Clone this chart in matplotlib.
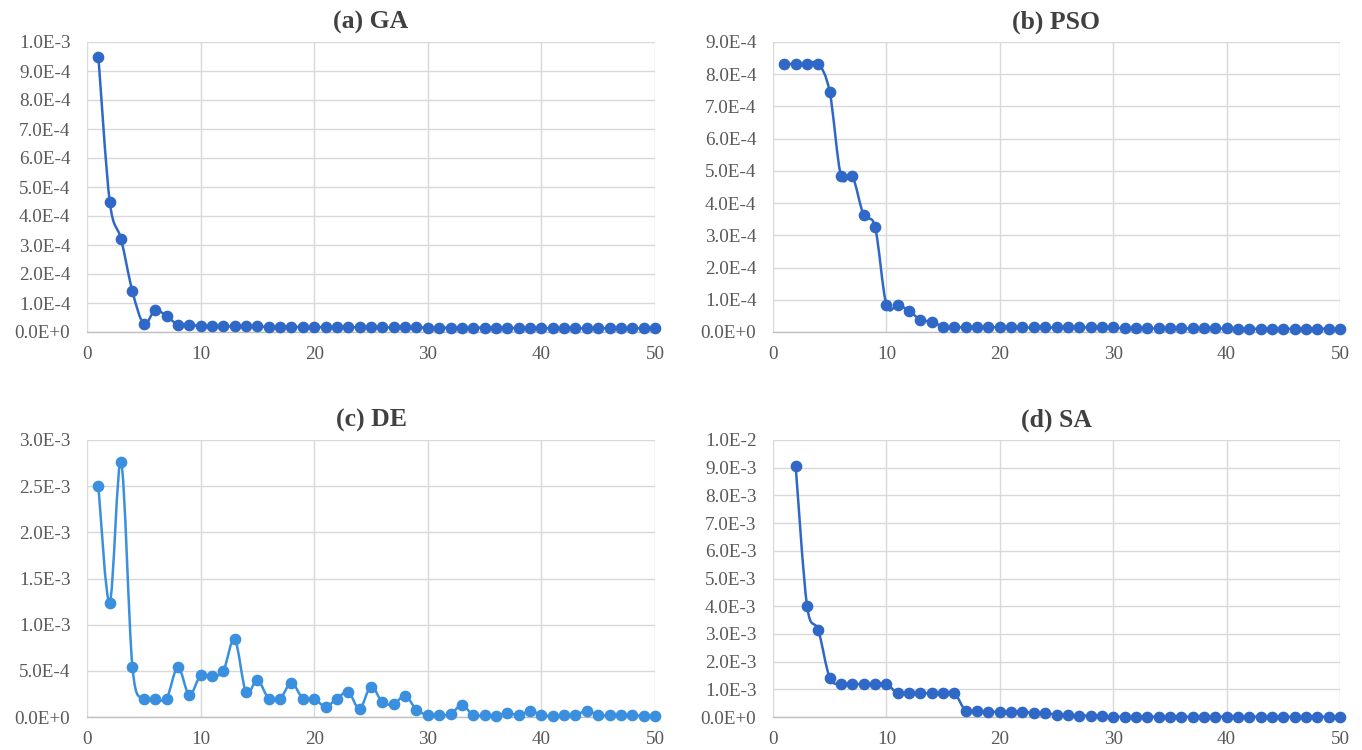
import numpy as np
import matplotlib
matplotlib.use("Agg")
import matplotlib.pyplot as plt
from matplotlib.path import Path
from matplotlib.patches import PathPatch
from matplotlib.ticker import FuncFormatter, MultipleLocator

# ---------------- data ----------------
iters = list(range(1, 51))

ga = [9.5e-4, 4.5e-4, 3.2e-4, 1.4e-4, 0.28e-4, 0.75e-4, 0.55e-4, 0.25e-4, 0.23e-4, 0.22e-4,
      0.20e-4, 0.20e-4, 0.19e-4, 0.19e-4, 0.19e-4, 0.18e-4, 0.18e-4, 0.18e-4, 0.17e-4, 0.17e-4,
      0.17e-4, 0.17e-4, 0.17e-4, 0.16e-4, 0.16e-4, 0.16e-4, 0.16e-4, 0.16e-4, 0.16e-4, 0.15e-4,
      0.15e-4, 0.15e-4, 0.15e-4, 0.15e-4, 0.15e-4, 0.15e-4, 0.14e-4, 0.14e-4, 0.14e-4, 0.13e-4,
      0.13e-4, 0.13e-4, 0.13e-4, 0.13e-4, 0.13e-4, 0.13e-4, 0.13e-4, 0.13e-4, 0.13e-4, 0.13e-4]

pso = [8.32e-4, 8.32e-4, 8.32e-4, 8.32e-4, 7.45e-4, 4.83e-4, 4.83e-4, 3.62e-4, 3.26e-4, 0.84e-4,
       0.84e-4, 0.66e-4, 0.38e-4, 0.32e-4, 0.17e-4, 0.15e-4, 0.15e-4, 0.15e-4, 0.15e-4, 0.15e-4,
       0.15e-4, 0.14e-4, 0.14e-4, 0.14e-4, 0.14e-4, 0.14e-4, 0.14e-4, 0.14e-4, 0.14e-4, 0.14e-4,
       0.11e-4, 0.11e-4, 0.11e-4, 0.11e-4, 0.11e-4, 0.11e-4, 0.11e-4, 0.11e-4, 0.11e-4, 0.11e-4,
       0.10e-4, 0.10e-4, 0.10e-4, 0.10e-4, 0.10e-4, 0.10e-4, 0.10e-4, 0.10e-4, 0.10e-4, 0.10e-4]

de = [2.50e-3, 1.24e-3, 2.76e-3, 0.54e-3, 0.20e-3, 0.20e-3, 0.20e-3, 0.54e-3, 0.24e-3, 0.45e-3,
      0.44e-3, 0.50e-3, 0.84e-3, 0.27e-3, 0.40e-3, 0.20e-3, 0.20e-3, 0.37e-3, 0.20e-3, 0.20e-3,
      0.11e-3, 0.20e-3, 0.27e-3, 0.09e-3, 0.33e-3, 0.16e-3, 0.14e-3, 0.23e-3, 0.08e-3, 0.02e-3,
      0.02e-3, 0.03e-3, 0.13e-3, 0.02e-3, 0.02e-3, 0.014e-3, 0.045e-3, 0.02e-3, 0.065e-3, 0.024e-3,
      0.01e-3, 0.02e-3, 0.02e-3, 0.07e-3, 0.02e-3, 0.02e-3, 0.02e-3, 0.02e-3, 0.014e-3, 0.014e-3]

sa_iters = list(range(2, 51))
sa = [9.05e-3, 4.02e-3, 3.13e-3, 1.42e-3, 1.19e-3, 1.19e-3, 1.19e-3, 1.19e-3, 1.19e-3,
      0.86e-3, 0.86e-3, 0.86e-3, 0.86e-3, 0.86e-3, 0.86e-3, 0.22e-3, 0.22e-3, 0.19e-3, 0.19e-3,
      0.19e-3, 0.19e-3, 0.14e-3, 0.14e-3, 0.08e-3, 0.08e-3, 0.05e-3, 0.05e-3, 0.02e-3, 0.01e-3,
      0.01e-3, 0.01e-3, 0.01e-3, 0.01e-3, 0.01e-3, 0.01e-3, 0.01e-3, 0.01e-3, 0.01e-3, 0.01e-3,
      0.01e-3, 0.01e-3, 0.01e-3, 0.01e-3, 0.01e-3, 0.01e-3, 0.01e-3, 0.01e-3, 0.01e-3, 0.01e-3]

titles = ["(a) GA", "(b) PSO", "(c) DE", "(d) SA"]
y_max = [1.0e-3, 9.0e-4, 3.0e-3, 1.0e-2]
y_step = [1.0e-4, 1.0e-4, 5.0e-4, 1.0e-3]
x_ticks = [0, 10, 20, 30, 40, 50]

# ---------------- style ----------------
DARK = "#2F68C6"
LIGHT = "#3A90DE"
colors = [DARK, DARK, LIGHT, DARK]
GRID = "#D9D9D9"
TXT = "#595959"

plt.rcParams["font.family"] = ["Liberation Serif", "DejaVu Serif"]


def sci_fmt(v, pos=None):
    if abs(v) < 1e-15:
        return "0.0E+0"
    e = int(np.floor(np.log10(abs(v)) + 1e-9))
    m = v / 10 ** e
    return f"{m:.1f}E{e:+d}"


def smooth_path(x, y):
    """Excel-like smoothed line: Catmull-Rom converted to cubic Bezier."""
    x = np.asarray(x, float)
    y = np.asarray(y, float)
    n = len(x)
    verts = [(x[0], y[0])]
    codes = [Path.MOVETO]
    for i in range(n - 1):
        p0 = (x[i - 1], y[i - 1]) if i > 0 else (x[i], y[i])
        p1 = (x[i], y[i])
        p2 = (x[i + 1], y[i + 1])
        p3 = (x[i + 2], y[i + 2]) if i + 2 < n else (x[i + 1], y[i + 1])
        c1 = (p1[0] + (p2[0] - p0[0]) / 6.0, p1[1] + (p2[1] - p0[1]) / 6.0)
        c2 = (p2[0] - (p3[0] - p1[0]) / 6.0, p2[1] - (p3[1] - p1[1]) / 6.0)
        verts += [c1, c2, p2]
        codes += [Path.CURVE4, Path.CURVE4, Path.CURVE4]
    return Path(verts, codes)


fig = plt.figure(figsize=(13.62, 7.5), dpi=100)
W, H = 1362.0, 750.0
boxes = [(87, 42, 655, 332), (773, 42, 1340, 332),
         (87, 440, 655, 717), (773, 440, 1340, 717)]

series = [(iters, ga), (iters, pso), (iters, de), (sa_iters, sa)]

for k, (l, t, r, b) in enumerate(boxes):
    ax = fig.add_axes([l / W, 1 - b / H, (r - l) / W, (b - t) / H])
    xs, ys = series[k]
    col = colors[k]
    patch = PathPatch(smooth_path(xs, ys), facecolor="none", edgecolor=col,
                      lw=1.8, zorder=3, clip_on=False)
    ax.add_patch(patch)
    ax.plot(xs, ys, linestyle="none", marker="o", ms=7.4, color=col,
            markeredgecolor=col, zorder=4, clip_on=False)

    ax.set_xlim(0, 50)
    ax.set_ylim(0, y_max[k])
    ax.set_xticks(x_ticks)
    ax.yaxis.set_major_locator(MultipleLocator(y_step[k]))
    ax.yaxis.set_major_formatter(FuncFormatter(sci_fmt))
    ax.grid(True, color=GRID, lw=1.0, zorder=0)
    ax.set_axisbelow(True)
    for s in ["top", "right", "left"]:
        ax.spines[s].set_visible(False)
    ax.spines["bottom"].set_color("#BFBFBF")
    ax.spines["bottom"].set_linewidth(1.0)
    ax.tick_params(axis="both", length=0, labelsize=13.8, colors=TXT)
    ax.tick_params(axis="x", pad=10)
    ax.tick_params(axis="y", pad=12)
    ax.set_title(titles[k], fontsize=18.5, fontweight="bold", color="#404040", pad=10)

fig.savefig("out.png", dpi=100, facecolor="white")
